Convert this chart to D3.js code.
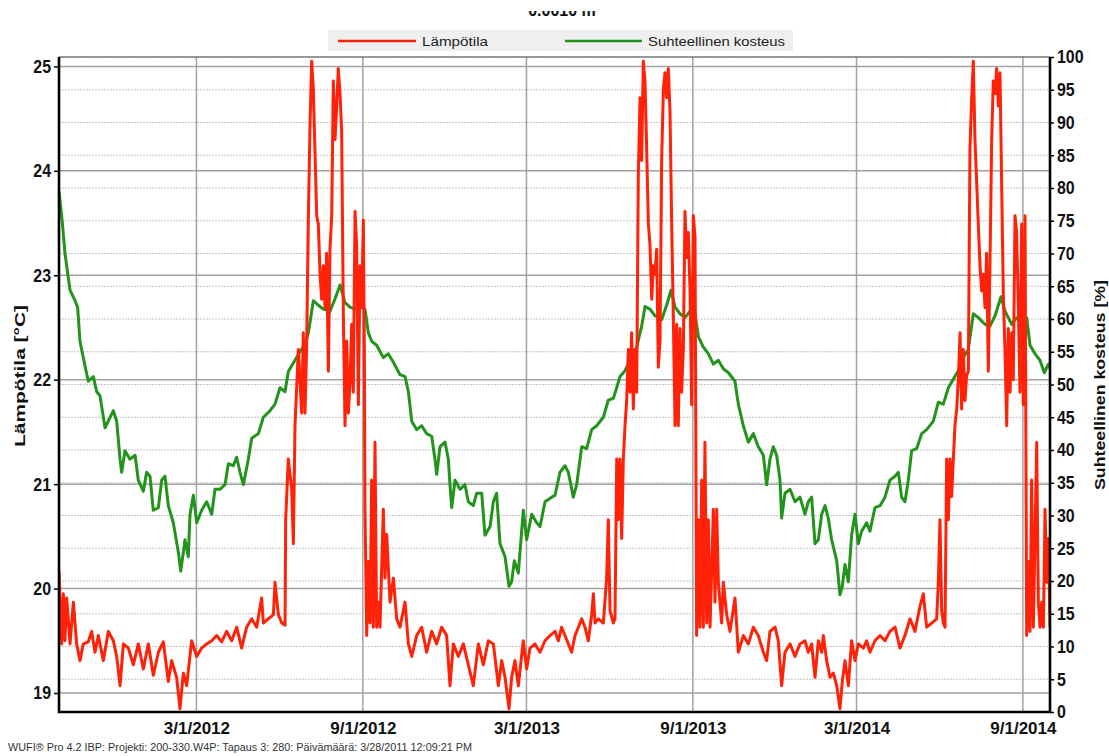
<!DOCTYPE html>
<html>
<head>
<meta charset="utf-8">
<script src="https://cdn.jsdelivr.net/npm/d3@7"></script>
<style>
  body { margin: 0; background: #fff; }
  text { font-family: "Liberation Sans", Arial, sans-serif; }
</style>
</head>
<body>
<svg id="chart" width="1109" height="756"></svg>
<script>
// days are counted from startDate
const startDate = new Date(2011, 9, 1);
const endDate = new Date(2014, 9, 1);

const dateTicks = ["2012-03-01", "2012-09-01", "2013-03-01", "2013-09-01", "2014-03-01", "2014-09-01"];
const tempTicks = [19, 20, 21, 22, 23, 24, 25];
const rhTicks = [0, 5, 10, 15, 20, 25, 30, 35, 40, 45, 50, 55, 60, 65, 70, 75, 80, 85, 90, 95, 100];

const seriesNames = ["Lämpötila", "Suhteellinen kosteus"];

// [day, °C]
const temperature = [
  [0, 20.17], [2.95, 19.47], [4.8, 19.95], [6.6, 19.5], [8.5, 19.91], [12.2, 19.47], [15.9, 19.87], [19.5, 19.47],
  [23.2, 19.31], [26.9, 19.47], [32.4, 19.49], [36.1, 19.59], [39.8, 19.39], [43.5, 19.55], [49, 19.31], [54.6, 19.59],
  [60.1, 19.5], [63.8, 19.35], [67.5, 19.07], [71.2, 19.47], [76.7, 19.43], [82.2, 19.27], [87.7, 19.47], [93.3, 19.23],
  [98.8, 19.47], [104.3, 19.17], [109.9, 19.39], [115.4, 19.49], [120.9, 19.11], [124.6, 19.31], [130.1, 19.15], [133.8, 18.85],
  [137.5, 19.19], [141.2, 19.07], [146.7, 19.5], [152.3, 19.35], [157.8, 19.43], [163.3, 19.47], [168.9, 19.5], [174.4, 19.55],
  [179.9, 19.49], [185.4, 19.59], [191, 19.5], [196.5, 19.63], [202, 19.43], [207.5, 19.63], [213.1, 19.71], [218.6, 19.63],
  [224.1, 19.91], [226, 19.67], [231.5, 19.71], [237.1, 19.75], [238.9, 20.06], [242.6, 19.75], [246.3, 19.67], [250, 19.65],
  [250.7, 20.66], [253.6, 21.24], [257.3, 20.96], [259.2, 20.43], [261, 21.56], [264.7, 22.29], [268.4, 21.68], [270.2, 22.45],
  [272.1, 21.68], [273.9, 22.33], [275.8, 23.57], [277.6, 24.42], [279.4, 25.05], [281.3, 24.78], [283.1, 24.18], [285, 23.57],
  [286.8, 23.49], [288.7, 23.01], [290.5, 22.77], [292.3, 23.09], [294.2, 22.69], [296, 23.21], [297.9, 22.08], [299.7, 23.25],
  [301.6, 23.57], [303.4, 24.86], [305.3, 24.3], [307.1, 24.62], [308.9, 24.98], [310.8, 24.74], [312.6, 24.38], [314.5, 22.61],
  [316.3, 21.56], [318.2, 22.37], [320, 21.68], [321.8, 21.96], [323.7, 22.53], [325.5, 21.88], [327.4, 23.61], [329.2, 23.29],
  [331.1, 21.76], [332.9, 23.09], [334.7, 22.69], [336.6, 23.53], [337.7, 22.28], [338.4, 20.76], [340.3, 19.55], [342.1, 20.26],
  [344, 19.67], [345.8, 21.04], [347.6, 19.63], [349.5, 21.4], [351.3, 19.63], [353.2, 19.87], [355, 19.63], [358.7, 20.76],
  [360.5, 20.1], [362.4, 20.52], [366.1, 19.87], [369.8, 20.1], [373.5, 19.71], [377.1, 19.63], [382.7, 19.87], [386.4, 19.47],
  [390.1, 19.35], [395.6, 19.55], [401.1, 19.63], [406.6, 19.39], [412.2, 19.59], [417.7, 19.47], [423.2, 19.63], [428.7, 19.55],
  [432.4, 19.07], [436.1, 19.47], [441.6, 19.35], [447.2, 19.47], [452.7, 19.27], [458.2, 19.07], [463.8, 19.47], [469.3, 19.27],
  [474.8, 19.5], [480.4, 19.47], [485.9, 19.07], [489.6, 19.31], [493.3, 19.15], [497.7, 18.85], [500.6, 19.15], [504.3, 19.31],
  [508, 19.07], [513.5, 19.5], [517.2, 19.23], [520.9, 19.43], [526.4, 19.47], [532, 19.39], [537.5, 19.5], [543, 19.55],
  [548.6, 19.59], [552.2, 19.5], [555.9, 19.63], [559.6, 19.55], [563.3, 19.47], [567, 19.39], [570.7, 19.55], [574.4, 19.63],
  [578.1, 19.71], [581.7, 19.63], [585.4, 19.5], [589.1, 19.75], [591, 19.95], [592.8, 19.67], [596.5, 19.71], [602, 19.67],
  [605.7, 20.1], [607.5, 20.66], [609.4, 19.79], [613.1, 19.67], [614.9, 19.71], [616.8, 21.24], [618.6, 20.66], [620.4, 21.24],
  [622.3, 20.48], [624.1, 21.24], [626, 21.56], [627.8, 21.8], [629.7, 22.29], [631.5, 21.88], [633.3, 22.45], [635.2, 21.72],
  [637, 22.29], [638.9, 21.88], [640.7, 23.97], [642.6, 24.7], [644.4, 24.1], [646.2, 25.05], [648.1, 24.86], [649.9, 24.22],
  [651.8, 23.49], [653.6, 23.29], [655.5, 22.77], [657.3, 23.09], [659.1, 23.01], [661, 23.25], [662.8, 22.12], [664.7, 22.37],
  [666.5, 24.1], [668.4, 24.78], [670.2, 24.94], [672, 24.7], [673.9, 24.98], [675.7, 24.58], [677.6, 23.49], [679.4, 22.61],
  [681.3, 21.56], [683.1, 22.53], [684.9, 21.56], [686.8, 22.49], [688.6, 21.88], [690.5, 22.29], [692.3, 23.61], [694.2, 23.17],
  [696, 23.41], [697.9, 22.85], [699.7, 21.76], [701.5, 23.57], [703.4, 23.37], [705.2, 19.55], [707.1, 20.66], [708.9, 19.63],
  [710.8, 21.04], [712.6, 19.63], [714.4, 21.4], [716.3, 19.67], [718.1, 20.66], [720, 19.63], [723.7, 20.76], [725.5, 19.87],
  [727.4, 20.76], [729.2, 20.06], [732.9, 19.67], [734.7, 20.06], [738.4, 19.75], [742.1, 19.59], [747.6, 19.91], [751.3, 19.39],
  [756.8, 19.55], [762.4, 19.47], [767.9, 19.63], [773.4, 19.55], [779, 19.39], [782.6, 19.31], [786.3, 19.59], [791.9, 19.63],
  [795.5, 19.5], [799.2, 19.07], [802.9, 19.39], [808.5, 19.47], [814, 19.35], [819.5, 19.47],
  [825, 19.5], [828.7, 19.39], [832.4, 19.47], [836.1, 19.15], [839.8, 19.5], [843.5, 19.39], [845.3, 19.55], [849, 19.31],
  [852.7, 19.15], [856.4, 19.19], [860.1, 19.07], [863.7, 18.85], [866.3, 19.11], [869.3, 19.31], [873, 19.07], [876.6, 19.5],
  [880.3, 19.31], [884, 19.47], [889.6, 19.43], [893.2, 19.5], [896.9, 19.39], [902.4, 19.5], [908, 19.55], [913.5, 19.5],
  [919, 19.59], [924.6, 19.63], [930.1, 19.43], [935.6, 19.55], [941.2, 19.71], [946.7, 19.59], [952.2, 19.83], [955.9, 19.95],
  [959.6, 19.63], [965.1, 19.67], [970.7, 19.71], [972.5, 20.06], [974.3, 20.66], [976.2, 19.79], [978, 19.67], [979.9, 19.63],
  [981.7, 21.24], [983.6, 20.66], [985.4, 21.24], [987.2, 20.88], [989.1, 21.24], [990.9, 21.56], [992.8, 21.72], [994.6, 22],
  [996.5, 22.45], [998.3, 21.72], [1000.1, 22.29], [1002, 21.8], [1003.8, 22.04], [1005.7, 22.08], [1007.5, 24.22], [1009.4, 24.7],
  [1011.2, 25.05], [1013, 24.3], [1014.9, 23.89], [1016.7, 23.49], [1018.6, 23.09], [1020.4, 22.85], [1022.3, 23.01], [1024.1, 22.69],
  [1025.9, 23.21], [1027.8, 22.08], [1029.6, 23.09], [1031.5, 24.3], [1033.3, 24.86], [1035.2, 24.74], [1037, 24.98], [1038.9, 24.62],
  [1040.7, 24.94], [1042.5, 23.89], [1044.4, 22.81], [1046.2, 22.29], [1048.1, 21.56], [1049.9, 22.49], [1051.8, 21.88], [1053.6, 22.45],
  [1055.4, 22], [1057.3, 23.57], [1059.1, 23.41], [1061, 22.69], [1062.8, 21.88], [1064.7, 23.49], [1066.5, 21.76], [1068.4, 23.57],
  [1070.2, 19.55], [1072.1, 20.26], [1073.9, 19.59], [1075.7, 21.04], [1077.6, 19.63], [1079.4, 20.48], [1081.3, 21.4], [1083.1, 19.87],
  [1085, 19.63], [1086.8, 19.87], [1088.7, 19.63], [1090.5, 20.76], [1092.4, 20.06], [1094.2, 20.48], [1096, 19.63]
];

// [day, %]
const humidity = [
  [0, 79.5], [3.7, 74.7], [6.6, 70], [12.2, 64.4], [17.7, 62.8], [20.6, 61.8], [23.2, 56.6], [28.8, 52.8],
  [32.4, 50.5], [38, 51.2], [41.7, 48.9], [45.3, 48.3], [50.9, 43.4], [60.1, 46], [63.8, 44.4], [67.5, 38.6],
  [69.3, 36.6], [73, 39.9], [78.5, 38.6], [84.1, 39.2], [87.7, 35.4], [93.3, 33.7], [96.9, 36.6], [100.6, 36],
  [104.3, 30.8], [109.9, 31.2], [113.6, 35.4], [117.2, 36], [120.9, 31.5], [126.4, 28.9], [132, 24.4], [134.6, 21.5],
  [139.4, 26.3], [143, 23.7], [144.9, 30.2], [148.6, 33.1], [152.3, 28.9], [157.8, 30.8], [163.3, 32.1], [168.9, 30.2],
  [172.5, 34], [178, 34], [183.6, 34.7], [187.3, 37.9], [192.8, 37.6], [196.5, 38.9], [200.2, 36.6], [203.9, 34.7],
  [209.4, 38.6], [213.1, 41.8], [220.5, 42.5], [226, 45], [233.4, 46], [238.9, 47], [244.4, 49.5], [250, 48.9],
  [253.6, 52], [261, 53.7], [268.4, 55.4],
  [272.1, 56], [275.8, 57.9], [281.3, 62.8], [286.8, 62.1], [292.3, 61.5], [299.7, 61.2], [305.3, 63.1], [310.8, 65.2],
  [316.3, 62.5], [321.8, 61.8], [327.4, 61.5], [332.9, 62], [338.4, 61.5], [342.1, 57.9], [345.8, 56.6], [351.3, 56],
  [358.7, 54.1], [364.2, 54.7], [369.8, 53.4], [377.1, 51.5], [382.7, 51.2], [386.4, 48.9], [390.1, 44.4], [395.6, 43.1],
  [401.1, 43.7], [406.6, 42.5], [412.2, 42.1], [415.8, 38.6], [417.7, 36.3], [421.4, 40.5], [426.9, 41.2], [430.6, 38.6],
  [432.4, 34.7], [434.3, 31.2], [438, 35.4], [443.5, 34], [449, 34.7], [452.7, 32.1], [458.2, 31.5], [461.9, 33.4],
  [467.5, 33.4], [471.1, 27], [476.7, 28.3], [480.4, 32.1], [484, 33.4], [487.7, 25.7], [493.3, 23.7], [497.7, 19.2],
  [500.6, 19.9], [503.6, 23.1], [508, 21.2], [513.5, 30.8], [517.2, 26.3], [522.8, 30.2], [528.3, 28.9], [532, 28.3],
  [537.5, 32.1], [544.9, 32.8],
  [548.6, 33.1], [554.1, 36.6], [559.6, 37.6], [563.3, 36.6], [568.8, 32.8], [572.5, 34.7], [578.1, 40.5], [583.6, 40.2],
  [589.1, 43.1], [594.6, 43.7], [602, 45], [607.5, 47.6], [613.1, 47.9], [616.8, 49.5], [620.4, 51.2], [626, 52.1],
  [631.5, 53.7], [638.9, 55.7], [644.4, 58.9], [648.1, 61.9], [653.6, 61.5], [659.1, 60.5], [666.5, 59.9], [672, 62.1],
  [676.8, 64.4], [681.3, 61.8], [686.8, 60.8], [692.3, 60.2], [697.9, 61.2], [703.4, 60.8], [707.1, 57.3], [712.6, 55.7],
  [718.1, 54.7], [723.7, 53.1], [729.2, 53.7], [734.7, 52.4], [740.3, 51.8], [747.6, 50.5], [751.3, 47], [756.8, 43.7],
  [762.4, 41.2], [767.9, 42.5], [773.4, 40.5], [779, 39.2], [782.6, 34.7], [786.3, 38.6], [790, 40.5], [793.7, 39.2],
  [797.4, 35.4], [799.2, 29.6], [802.9, 33.4], [808.5, 34], [814, 32.1], [819.5, 32.8],
  [825, 30.2], [828.7, 32.1], [832.4, 32.8], [836.1, 25.7], [839.8, 26.3], [843.5, 30.2], [847.2, 31.5], [850.8, 29.6],
  [854.5, 26.3], [860.1, 23.1], [863.7, 17.9], [866.3, 19.2], [869.3, 22.5], [873, 19.9], [876.6, 27], [880.3, 30.2],
  [884, 25.7], [887.7, 27.6], [893.2, 28.9], [896.9, 27.6], [902.4, 31.2], [908, 31.5], [913.5, 32.8], [919, 35.4],
  [924.6, 36], [928.3, 36.6], [931.9, 32.8], [935.6, 32.1], [939.3, 35.4], [943, 39.9], [948.5, 40.2], [954.1, 42.5],
  [959.6, 43.1], [967, 44.4], [972.5, 47.3], [978, 47], [983.6, 49.5], [989.1, 50.8], [994.6, 52.1], [1000.1, 54.1],
  [1005.7, 55.4], [1011.2, 60.8], [1016.7, 60.2], [1024.1, 59.2], [1029.6, 58.9], [1035.2, 60.5], [1041.8, 63.4], [1046.2, 61.2],
  [1053.6, 59.2], [1059.1, 60.2], [1064.7, 59.9], [1070.2, 60.2], [1073.9, 56], [1079.4, 54.7], [1084.9, 53.7], [1089.7, 51.8],
  [1094.2, 53.1], [1096, 52.4]
];

const red = "#ff2208", green = "#22941c";
const plotL = 59, plotR = 1050, plotT = 57, plotB = 712;

const svg = d3.select("#chart");
const dayToDate = d => new Date(startDate.getTime() + d * 864e5);
const parseDay = d => new Date(d + "T00:00");

const x = d3.scaleTime().domain([startDate, endDate]).range([plotL, plotR]);
const yT = d3.scaleLinear().domain([18.818, 25.09]).range([plotB, plotT]);
const yH = d3.scaleLinear().domain([0, 100]).range([plotB, plotT]);

// squeeze text horizontally (the original screenshot is stretched)
function squeeze(sel, f) {
  sel.each(function() {
    const len = this.getComputedTextLength();
    d3.select(this).attr("textLength", len * f).attr("lengthAdjust", "spacingAndGlyphs");
  });
}

// title fragment cut at the top of the picture
svg.append("clipPath").attr("id", "titleclip")
  .append("rect").attr("x", 0).attr("y", 11).attr("width", 1109).attr("height", 9);
svg.append("text").attr("clip-path", "url(#titleclip)")
  .attr("x", 562).attr("y", 16).attr("text-anchor", "middle")
  .attr("font-size", 16).attr("font-weight", "bold").attr("fill", "#111")
  .text("0.0010 m");

// grid
const grid = svg.append("g");
grid.selectAll(".rh").data(rhTicks).join("line")
  .attr("x1", plotL).attr("x2", plotR)
  .attr("y1", d => yH(d)).attr("y2", d => yH(d))
  .attr("stroke", "#c4c4c4").attr("stroke-width", 1).attr("stroke-dasharray", "2,1");
grid.selectAll(".t").data(tempTicks).join("line")
  .attr("x1", plotL).attr("x2", plotR)
  .attr("y1", d => yT(d)).attr("y2", d => yT(d))
  .attr("stroke", "#a2a2a2").attr("stroke-width", 1.5);
grid.selectAll(".d").data(dateTicks).join("line")
  .attr("x1", d => x(parseDay(d))).attr("x2", d => x(parseDay(d)))
  .attr("y1", plotT).attr("y2", plotB)
  .attr("stroke", "#a2a2a2").attr("stroke-width", 1.5);

// lines
svg.append("clipPath").attr("id", "plotclip")
  .append("rect").attr("x", plotL).attr("y", plotT).attr("width", plotR - plotL).attr("height", plotB - plotT);

const plot = svg.append("g").attr("clip-path", "url(#plotclip)");
plot.append("path").datum(humidity)
  .attr("fill", "none").attr("stroke", green).attr("stroke-width", 3).attr("stroke-linejoin", "round")
  .attr("d", d3.line().x(d => x(dayToDate(d[0]))).y(d => yH(d[1])));
plot.append("path").datum(temperature)
  .attr("fill", "none").attr("stroke", red).attr("stroke-width", 3).attr("stroke-linejoin", "round")
  .attr("d", d3.line().x(d => x(dayToDate(d[0]))).y(d => yT(d[1])));

// frame
svg.append("line").attr("x1", plotL).attr("x2", plotR).attr("y1", plotT).attr("y2", plotT)
  .attr("stroke", "#444").attr("stroke-width", 1.2);
svg.append("path")
  .attr("d", `M${plotL},${plotT}V${plotB}H${plotR}V${plotT}`)
  .attr("fill", "none").attr("stroke", "#000").attr("stroke-width", 2.6);

// axes
const tickFont = size => g => g.selectAll("text")
  .attr("font-size", size).attr("font-weight", "bold").attr("fill", "#111")
  .attr("font-family", '"Liberation Sans", Arial, sans-serif');

const axL = svg.append("g").attr("transform", `translate(${plotL},0)`)
  .call(d3.axisLeft(yT).tickValues(tempTicks).tickSize(5).tickPadding(3).tickFormat(d3.format("d")))
  .call(g => g.select(".domain").remove())
  .call(g => g.selectAll("line").attr("stroke", "#000").attr("stroke-width", 1.5))
  .call(tickFont(18.5));

const axR = svg.append("g").attr("transform", `translate(${plotR},0)`)
  .call(d3.axisRight(yH).tickValues(rhTicks).tickSize(4).tickPadding(3).tickFormat(d3.format("d")))
  .call(g => g.select(".domain").remove())
  .call(g => g.selectAll("line").attr("stroke", "#000").attr("stroke-width", 1.5))
  .call(tickFont(18.5));

squeeze(axL.selectAll(".tick text"), 0.86);
squeeze(axR.selectAll(".tick text"), 0.86);

const fmt = d3.timeFormat("%-m/%-d/%Y");
svg.append("g").attr("transform", `translate(0,${plotB})`)
  .call(d3.axisBottom(x).tickValues(dateTicks.map(parseDay)).tickSize(0).tickPadding(10).tickFormat(fmt))
  .call(g => g.select(".domain").remove())
  .call(tickFont(17));

// axis titles
svg.append("text")
  .attr("transform", "translate(25,376) rotate(-90)")
  .attr("text-anchor", "middle").attr("font-size", 15).attr("font-weight", "bold").attr("fill", "#111")
  .attr("textLength", 142).attr("lengthAdjust", "spacingAndGlyphs")
  .text("Lämpötila [°C]");
svg.append("text")
  .attr("transform", "translate(1105,385) rotate(-90)")
  .attr("text-anchor", "middle").attr("font-size", 15).attr("font-weight", "bold").attr("fill", "#111")
  .attr("textLength", 210).attr("lengthAdjust", "spacingAndGlyphs")
  .text("Suhteellinen kosteus [%]");

// legend
const legend = svg.append("g");
legend.append("rect").attr("x", 328).attr("y", 30).attr("width", 465).attr("height", 21).attr("fill", "#efefef");
const legendItems = [
  { name: seriesNames[0], color: red, x0: 338, x1: 416, tx: 422, w: 66 },
  { name: seriesNames[1], color: green, x0: 565, x1: 642, tx: 648, w: 137 }
];
legendItems.forEach(it => {
  legend.append("line").attr("x1", it.x0).attr("x2", it.x1).attr("y1", 41).attr("y2", 41)
    .attr("stroke", it.color).attr("stroke-width", 2.6);
  legend.append("text").attr("x", it.tx).attr("y", 46)
    .attr("font-size", 13.5).attr("fill", "#222")
    .attr("textLength", it.w).attr("lengthAdjust", "spacingAndGlyphs")
    .text(it.name);
});

// footer
svg.append("text").attr("x", 8).attr("y", 751)
  .attr("font-size", 10).attr("fill", "#333")
  .attr("textLength", 464).attr("lengthAdjust", "spacingAndGlyphs")
  .text("WUFI® Pro 4.2 IBP: Projekti: 200-330.W4P: Tapaus 3: 280: Päivämäärä: 3/28/2011 12:09:21 PM");
</script>
</body>
</html>
